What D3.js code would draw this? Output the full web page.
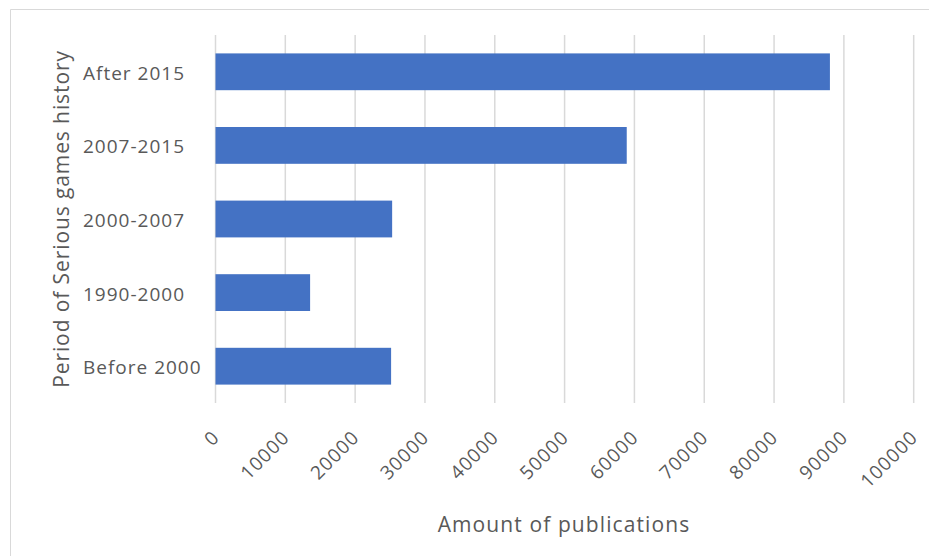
<!DOCTYPE html>
<html>
<head>
<meta charset="utf-8">
<script src="https://cdn.jsdelivr.net/npm/d3@7"></script>
<style>
  body { margin: 0; background: #fff; }
  text { font-family: "Open Sans", sans-serif; fill: #595959; }
</style>
</head>
<body>
<div id="chart"></div>
<script>
(function(){

    // data
    var categories = ["After 2015", "2007-2015", "2000-2007", "1990-2000", "Before 2000"];
    var publications = [88000, 58900, 25300, 13550, 25150];
    var xTicks = [0, 10000, 20000, 30000, 40000, 50000, 60000, 70000, 80000, 90000, 100000];
    var xTitle = "Amount of publications";
    var yTitle = "Period of Serious games history";

    var width = 929, height = 556;
    var margin = {top: 35, right: 15, bottom: 153, left: 215.5};
    var plotW = 913.7 - margin.left;
    var plotH = 403 - margin.top;

    var svg = d3.select("#chart")
        .append("svg")
        .attr("width", width)
        .attr("height", height);

    // frame of the chart area
    svg.append("path")
        .attr("d", "M10.5,556 L10.5,9.5 L929,9.5")
        .attr("fill", "none")
        .attr("stroke", "#d9d9d9")
        .attr("stroke-width", 1);

    var g = svg.append("g")
        .attr("transform", "translate(" + margin.left + "," + margin.top + ")");

    var x = d3.scaleLinear()
        .domain([0, 100000])
        .range([0, plotW]);

    var y = d3.scaleBand()
        .domain(categories)
        .range([0, plotH])
        .paddingInner(0.5)
        .paddingOuter(0.25);

    // gridlines
    g.selectAll("line.grid")
        .data(xTicks)
        .enter()
        .append("line")
        .attr("class", "grid")
        .attr("x1", function(d) { return x(d); })
        .attr("x2", function(d) { return x(d); })
        .attr("y1", 0)
        .attr("y2", plotH)
        .attr("stroke", "#d9d9d9")
        .attr("stroke-width", 1.5);

    // bars
    g.selectAll("rect.bar")
        .data(publications)
        .enter()
        .append("rect")
        .attr("class", "bar")
        .attr("x", 0)
        .attr("y", function(d, i) { return y(categories[i]); })
        .attr("width", function(d) { return x(d); })
        .attr("height", y.bandwidth())
        .attr("fill", "#4472c4");

    // x axis tick labels, rotated
    var xAxis = d3.axisBottom(x)
        .tickValues(xTicks)
        .tickFormat(d3.format("d"))
        .tickSize(0);

    var xg = g.append("g")
        .attr("transform", "translate(0," + plotH + ")")
        .call(xAxis);
    xg.select(".domain").remove();
    xg.selectAll("text")
        .attr("font-size", "19px")
        .attr("letter-spacing", "1px")
        .attr("fill", "#595959")
        .attr("text-anchor", "end")
        .attr("y", 0)
        .attr("dy", "0.35em")
        .attr("transform", "translate(0,31) rotate(-45)");

    // y axis category labels, left aligned like the original
    var yAxis = d3.axisLeft(y).tickSize(0);
    var yg = g.append("g").call(yAxis);
    yg.select(".domain").remove();
    yg.selectAll("text")
        .attr("font-size", "19px")
        .attr("letter-spacing", "1px")
        .attr("fill", "#595959")
        .attr("text-anchor", "start")
        .attr("x", 83 - margin.left)
        .attr("dy", "0.42em");

    // axis titles
    svg.append("text")
        .attr("x", 564)
        .attr("y", 532)
        .attr("text-anchor", "middle")
        .attr("font-size", "21px")
        .attr("letter-spacing", "1.1px")
        .text(xTitle);

    svg.append("text")
        .attr("transform", "translate(69," + (margin.top + plotH / 2) + ") rotate(-90)")
        .attr("text-anchor", "middle")
        .attr("font-size", "21px")
        .attr("letter-spacing", "0.9px")
        .text(yTitle);

})();
</script>
</body>
</html>
